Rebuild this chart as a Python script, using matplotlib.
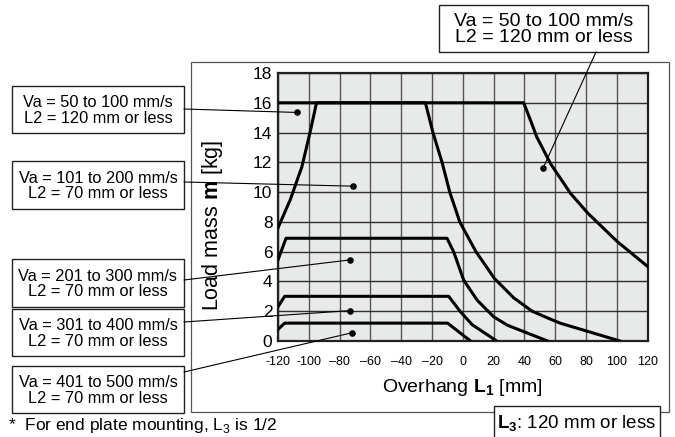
import matplotlib
matplotlib.use("Agg")
import matplotlib.pyplot as plt
from matplotlib import font_manager as fm
from matplotlib.patches import Rectangle, ConnectionPatch

# curves (overhang L1 [mm], load mass [kg])
c1_x = [-120, 39.5, 44, 48, 57, 70, 81, 100, 120]
c1_y = [16, 16, 14.8, 13.7, 11.9, 9.9, 8.6, 6.7, 5.0]
c2_x = [-120, -112, -104.5, -99, -95, -24.3, -19.4, -13.5, -8.5, -2, 8.5, 20.5, 33, 45, 55, 63.4, 102]
c2_y = [7.6, 9.5, 11.7, 14.1, 16, 16, 14, 12, 10, 8, 6, 4.2, 2.9, 2.0, 1.55, 1.19, 0]
c3_x = [-120, -114.8, -10.3, -6, 0.5, 9.2, 20, 28.7, 55]
c3_y = [5.45, 6.9, 6.9, 6.0, 4.1, 2.75, 1.63, 1.07, 0]
c4_x = [-120, -115.7, -9.2, -1.6, 6, 22]
c4_y = [2.3, 3.0, 3.0, 1.97, 1.1, 0]
c5_x = [-120, -115.7, -9.9, 5]
c5_y = [0.78, 1.2, 1.2, 0]

dots_x = [-107.7, -71.5, -73, -73.5, -71.7, 52]
dots_y = [15.35, 10.4, 5.45, 2.04, 0.56, 11.6]

xticks = list(range(-120, 121, 20))
xlabels = ['-120', '-100', '–80', '–60', '–40', '–20', '0', '20', '40', '60', '80', '100', '120']
yticks = list(range(0, 19, 2))

left_texts = ["Va = 50 to 100 mm/s\nL2 = 120 mm or less",
              "Va = 101 to 200 mm/s\nL2 = 70 mm or less",
              "Va = 201 to 300 mm/s\nL2 = 70 mm or less",
              "Va = 301 to 400 mm/s\nL2 = 70 mm or less",
              "Va = 401 to 500 mm/s\nL2 = 70 mm or less"]
top_text = "Va = 50 to 100 mm/s\nL2 = 120 mm or less"

W, H = 675, 437

names = {f.name for f in fm.fontManager.ttflist}
if 'Liberation Sans Narrow' in names:
    narrow, box_fs, tick_fs = 'Liberation Sans Narrow', 14, 9.5
else:
    narrow, box_fs, tick_fs = 'Liberation Sans', 11.8, 9

plt.rcParams['font.family'] = ['Liberation Sans', 'DejaVu Sans']
plt.rcParams['mathtext.fontset'] = 'custom'
plt.rcParams['mathtext.rm'] = 'Liberation Sans'
plt.rcParams['mathtext.bf'] = 'Liberation Sans:bold'


def fx(x):
    return x / W


def fy(y):
    return 1 - y / H


fig = plt.figure(figsize=(6.75, 4.37), dpi=100)

# outer frame
fig.add_artist(Rectangle((fx(191), fy(412)), fx(669) - fx(191), fy(62) - fy(412),
                         transform=fig.transFigure, fill=False, ec='#555555', lw=0.9, zorder=0))

ax = fig.add_axes([fx(278), fy(341), fx(647.7) - fx(278), fy(73) - fy(341)])
ax.set_facecolor('#e8e9e9')
ax.set_xlim(-120, 120)
ax.set_ylim(0, 18)
ax.set_xticks(xticks)
ax.set_xticklabels(xlabels, fontsize=tick_fs, family=narrow)
ax.set_yticks(yticks)
ax.set_yticklabels([str(v) for v in yticks], fontsize=12.5)
ax.tick_params(length=0)
ax.tick_params(axis='y', pad=4)
ax.tick_params(axis='x', pad=11)
ax.grid(True, axis='y', color='#2e2e2e', lw=1.0)
ax.grid(True, axis='x', color='#555555', lw=1.0)
ax.set_axisbelow(True)
for s in ax.spines.values():
    s.set_linewidth(1.6)
    s.set_color('#222222')

for xs, ys in [(c1_x, c1_y), (c2_x, c2_y), (c3_x, c3_y), (c4_x, c4_y), (c5_x, c5_y)]:
    ax.plot(xs, ys, color='black', lw=2.2, solid_joinstyle='round', zorder=3)
ax.scatter(dots_x, dots_y, s=14, color='black', zorder=4)

# left label boxes (top, bottom in pixels from the top) and leader start heights
boxes_y = [(86, 133), (161, 209), (259, 307), (309, 356), (366, 413)]
lead_y = [109, 182, 280, 322, 372]
for (t, b), txt, ly, dx, dy in zip(boxes_y, left_texts, lead_y, dots_x, dots_y):
    fig.add_artist(Rectangle((fx(12), fy(b)), fx(184) - fx(12), fy(t) - fy(b),
                             transform=fig.transFigure, fc='white', ec='#222222', lw=1.0, zorder=2))
    fig.text(fx(98), fy((t + b) / 2 + 1), txt, ha='center', va='center', fontsize=box_fs,
             family=narrow, linespacing=1.05, zorder=3)
    fig.add_artist(ConnectionPatch(xyA=(dx, dy), coordsA=ax.transData,
                                   xyB=(184, H - ly), coordsB='figure pixels',
                                   color='black', lw=0.8, zorder=5))

# top right box
fig.add_artist(Rectangle((fx(439), fy(52)), fx(648) - fx(439), fy(5) - fy(52),
                         transform=fig.transFigure, fc='white', ec='#222222', lw=1.0, zorder=2))
fig.text(fx(543.5), fy(29.5), top_text, ha='center', va='center', fontsize=14,
         linespacing=1.0, zorder=3)
fig.add_artist(ConnectionPatch(xyA=(dots_x[5], dots_y[5]), coordsA=ax.transData,
                               xyB=(596, H - 52), coordsB='figure pixels',
                               color='black', lw=0.8, zorder=5))

# axis labels
fig.text(fx(213), fy(225), 'Load mass $\\mathbf{m}$ [kg]', rotation=90,
         ha='center', va='center', fontsize=15.5)
fig.text(fx(462), fy(388), 'Overhang $\\mathbf{L}_{\\mathbf{1}}$ [mm]',
         ha='center', va='center', fontsize=14)

# L3 note box
fig.add_artist(Rectangle((fx(494), fy(450)), fx(660) - fx(494), fy(406) - fy(450),
                         transform=fig.transFigure, fc='white', ec='#222222', lw=1.0, zorder=2))
fig.text(fx(577), fy(424), '$\\mathbf{L}_{\\mathbf{3}}$: 120 mm or less',
         ha='center', va='center', fontsize=13.5, zorder=3)

# footnote at the bottom edge
fig.text(fx(8), fy(416), '*  For end plate mounting, L$_3$ is 1/2', ha='left', va='top', fontsize=12.5)

fig.savefig('out.png', dpi=100)
